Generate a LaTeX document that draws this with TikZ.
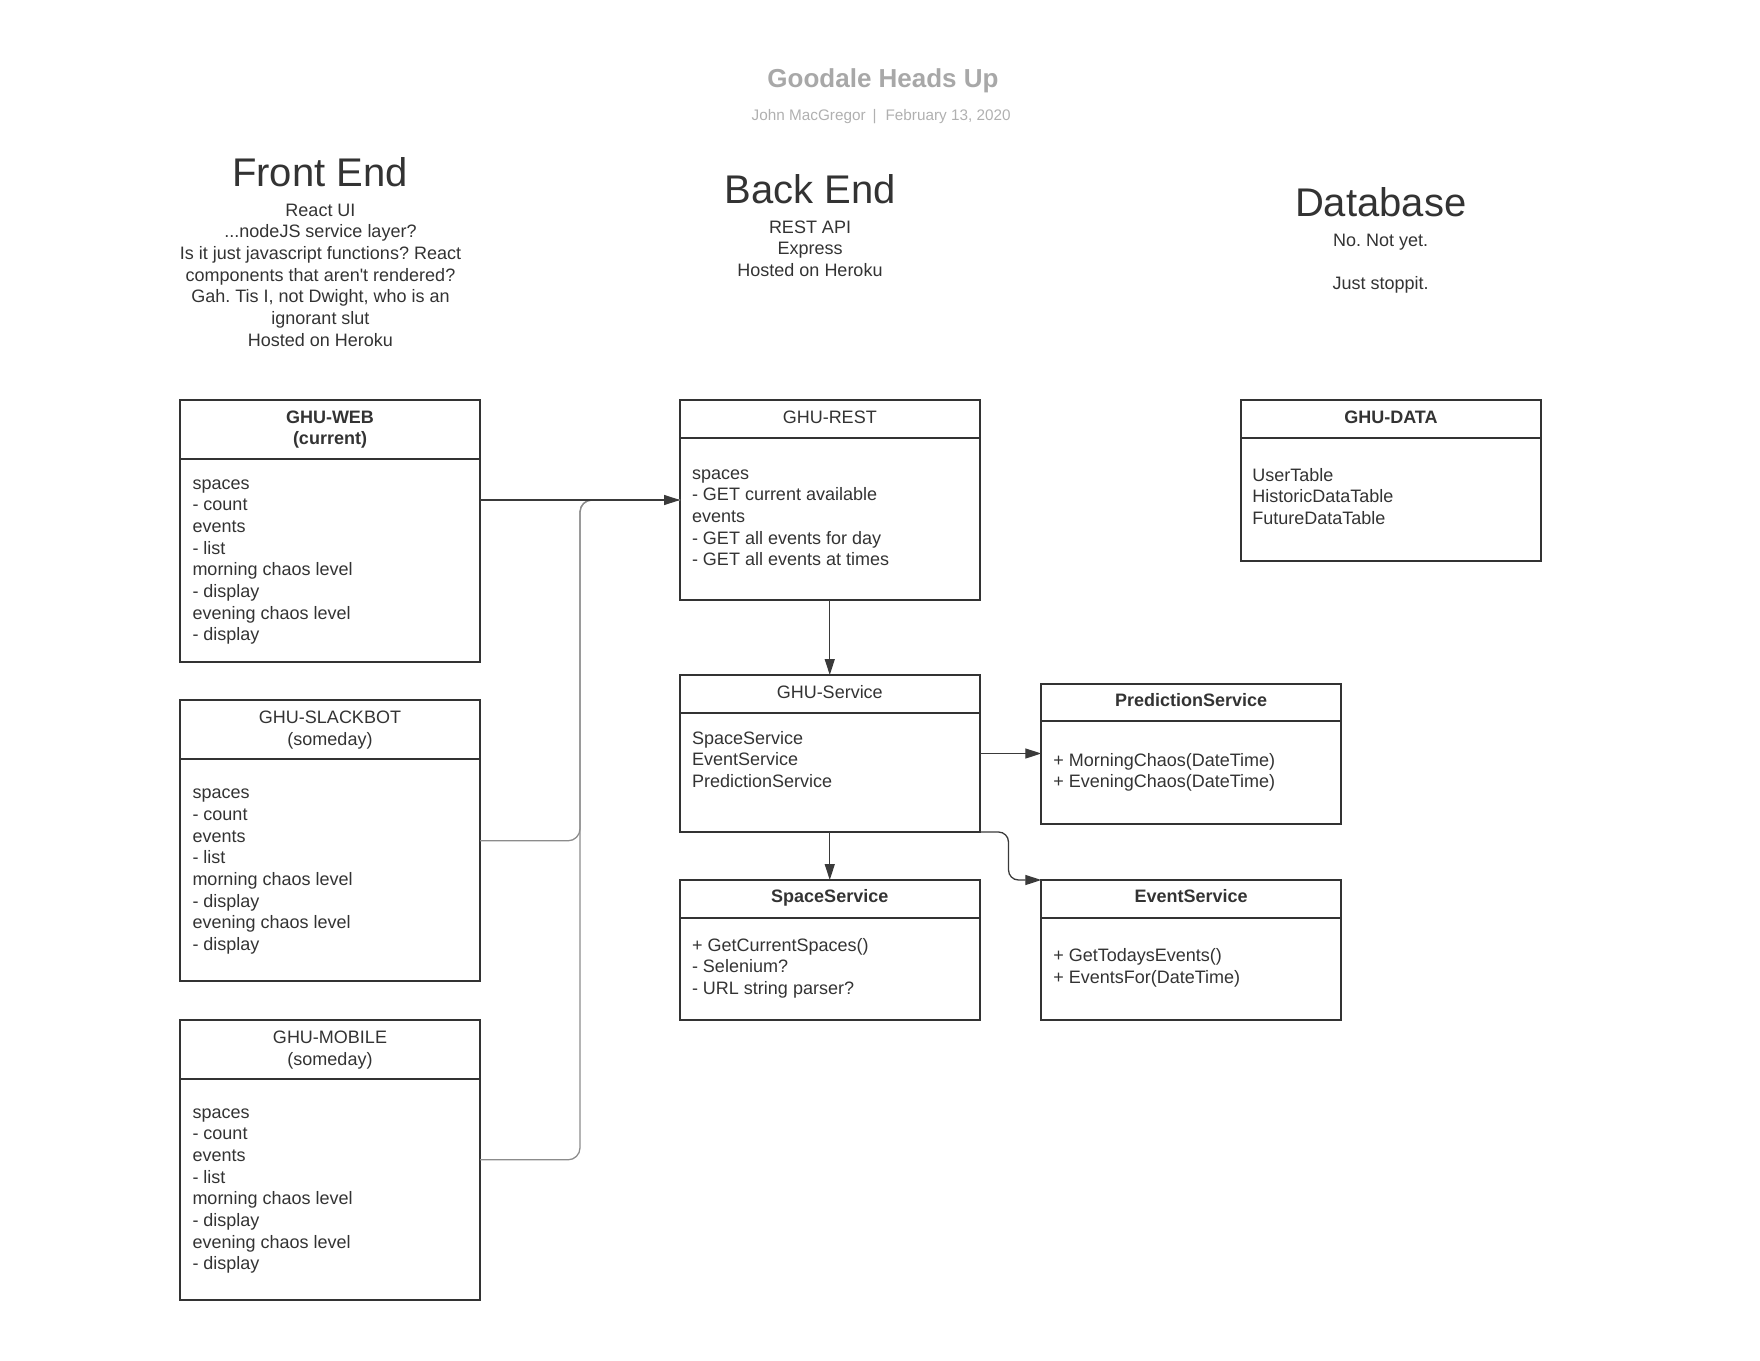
\documentclass[tikz,border=0pt]{standalone}
\usepackage{fontspec}
\setmainfont{Liberation Sans}[Ligatures=TeXOff]
\usetikzlibrary{arrows.meta}
\definecolor{ink}{HTML}{333333}
\definecolor{titlegray}{HTML}{A8A8A8}
\definecolor{subgray}{HTML}{B0B0B0}
\definecolor{wirecol}{HTML}{3A3A3A}
\definecolor{wiregray}{HTML}{8C8C8C}
\newcommand{\tl}[1]{\begin{tabular}[t]{@{}l@{}}#1\end{tabular}}
\newcommand{\tc}[1]{\begin{tabular}[t]{@{}c@{}}#1\end{tabular}}
\frenchspacing
\begin{document}
\frenchspacing
\begin{tikzpicture}[x=1pt,y=-1pt,
  box/.style={draw=ink, line width=2pt, rectangle, anchor=north west, inner sep=0pt, outer sep=0pt},
  divider/.style={draw=ink, line width=2pt},
  txt/.style={inner sep=0pt, outer sep=0pt, text=ink, font=\fontsize{18}{21.67}\selectfont},
  hdr/.style={txt, anchor=base},
  body/.style={txt, anchor=base west},
  heading/.style={inner sep=0pt, text=ink, anchor=base, font=\fontsize{40}{48}\selectfont},
  wire/.style={draw=wirecol, line width=1.3pt},
  wiregrey/.style={draw=wiregray, line width=1.3pt},
  endarrow/.style={-{Triangle[length=16pt,width=10pt]}},
]
\useasboundingbox (0,0) rectangle (1760,1360);

% title
\node[inner sep=0pt, anchor=base, text=titlegray, font=\fontsize{26}{31}\selectfont\bfseries] (title) at (883,87.3) {Goodale Heads Up};
\node[inner sep=0pt, anchor=base west, text=subgray, font=\fontsize{15.3}{18}\selectfont] (subtitle) at (751.5,120) {John MacGregor\hspace{7pt}|\hspace{9pt}February 13, 2020};

% column headings
\node[heading] (fe) at (320,186) {Front End};
\node[heading] (be) at (810,203.3) {Back End};
\node[heading] (db) at (1380.7,216) {Database};
\node[txt, anchor=base] (fedesc) at (320.5,216) {\tc{React UI\\...nodeJS service layer?\\Is it just javascript functions? React\\components that aren't rendered?\\Gah. Tis I, not Dwight, who is an\\ignorant slut\\Hosted on Heroku}};
\node[txt, anchor=base] (bedesc) at (810,233.3) {\tc{REST API\\Express\\Hosted on Heroku}};
\node[txt, anchor=base] (dbdesc) at (1380.7,246) {\tc{No. Not yet.\\ \\Just stoppit.}};

% GHU-WEB
\node[box, minimum width=300pt, minimum height=261.7pt] (web) at (180,400) {};
\draw[divider] (180,459) -- (480,459);
\node[hdr] (webh) at (330,423.3) {\bfseries\tc{GHU-WEB\\(current)}};
\node[body] (webb) at (192.5,489) {\tl{spaces\\- count\\events\\- list\\morning chaos level\\- display\\evening chaos level\\- display}};

% GHU-SLACKBOT
\node[box, minimum width=300pt, minimum height=281pt] (slack) at (180,700.3) {};
\draw[divider] (180,758.9) -- (480,758.9);
\node[hdr] (slackh) at (330,723.6) {\tc{GHU-SLACKBOT\\(someday)}};
\node[body] (slackb) at (192.5,798.7) {\tl{spaces\\- count\\events\\- list\\morning chaos level\\- display\\evening chaos level\\- display}};

% GHU-MOBILE
\node[box, minimum width=300pt, minimum height=280pt] (mobile) at (180,1019.8) {};
\draw[divider] (180,1078.9) -- (480,1078.9);
\node[hdr] (mobileh) at (330,1043.6) {\tc{GHU-MOBILE\\(someday)}};
\node[body] (mobileb) at (192.5,1118.2) {\tl{spaces\\- count\\events\\- list\\morning chaos level\\- display\\evening chaos level\\- display}};

% GHU-REST
\node[box, minimum width=299.5pt, minimum height=200pt] (rest) at (680,400) {};
\draw[divider] (680,437.7) -- (979.5,437.7);
\node[hdr] (resth) at (829.75,423.3) {GHU-REST};
\node[body] (restb) at (692,479.3) {\tl{spaces\\- GET current available\\events\\- GET all events for day\\- GET all events at times}};

% GHU-DATA
\node[box, minimum width=299.5pt, minimum height=161pt] (data) at (1241.2,400) {};
\draw[divider] (1241.2,437.7) -- (1540.7,437.7);
\node[hdr] (datah) at (1390.95,423.3) {\bfseries GHU-DATA};
\node[body] (datab) at (1252.3,481) {\tl{UserTable\\HistoricDataTable\\FutureDataTable}};

% GHU-Service
\node[box, minimum width=299.5pt, minimum height=157pt] (svc) at (680,675) {};
\draw[divider] (680,712.7) -- (979.5,712.7);
\node[hdr] (svch) at (829.75,698.3) {GHU-Service};
\node[body] (svcb) at (692,744.3) {\tl{SpaceService\\EventService\\PredictionService}};

% PredictionService
\node[box, minimum width=299.7pt, minimum height=140pt] (pred) at (1041.3,684) {};
\draw[divider] (1041.3,720.7) -- (1341,720.7);
\node[hdr] (predh) at (1191.15,706.7) {\bfseries PredictionService};
\node[body] (predb) at (1053.3,766) {\tl{+ MorningChaos(DateTime)\\+ EveningChaos(DateTime)}};

% SpaceService
\node[box, minimum width=299.5pt, minimum height=140pt] (space) at (680,880) {};
\draw[divider] (680,917.7) -- (979.5,917.7);
\node[hdr] (spaceh) at (829.75,902.7) {\bfseries SpaceService};
\node[body] (spaceb) at (692,951) {\tl{+ GetCurrentSpaces()\\- Selenium?\\- URL string parser?}};

% EventService
\node[box, minimum width=299.7pt, minimum height=140pt] (evt) at (1041.3,880) {};
\draw[divider] (1041.3,917.7) -- (1341,917.7);
\node[hdr] (evth) at (1191.15,902.7) {\bfseries EventService};
\node[body] (evtb) at (1053.3,961.7) {\tl{+ GetTodaysEvents()\\+ EventsFor(DateTime)}};

% connectors
\coordinate (bus) at (580,500);
\draw[wiregrey, rounded corners=12pt] (slack.east) -| (bus) -- (rest.west);
\draw[wiregrey, rounded corners=12pt] (mobile.east) -| (bus) -- (rest.west);
\draw[wire, endarrow] (web.east |- rest.west) -- (rest.west);
\draw[wire, endarrow] (rest.south) -- (svc.north);
\draw[wire, endarrow] (svc.east) -- (svc.east -| pred.west);
\draw[wire, endarrow] (svc.south) -- (space.north);
\draw[wire, rounded corners=10pt, endarrow] (svc.south east) -- ++(29,0) |- (evt.north west);
\end{tikzpicture}
\end{document}
